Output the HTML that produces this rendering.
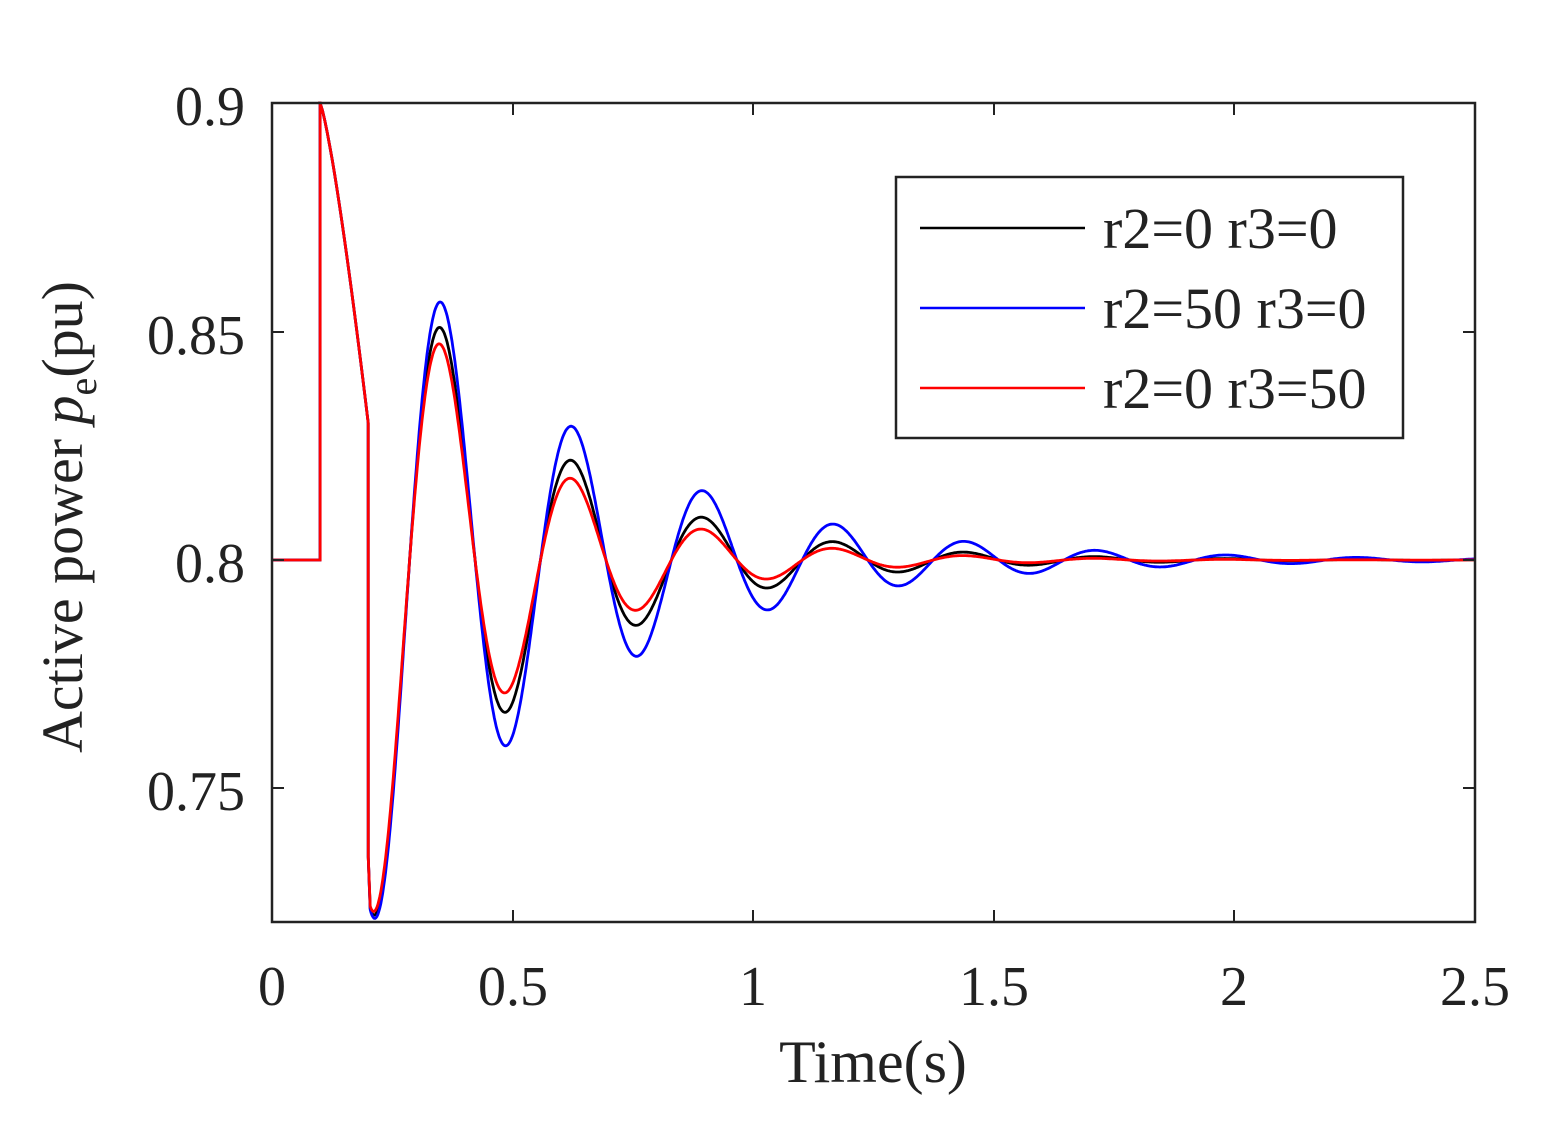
<!DOCTYPE html>
<html><head><meta charset="utf-8"><style>
html,body{margin:0;padding:0;background:#fff;}
svg text{font-family:"Liberation Serif",serif;fill:#222;}
</style></head><body>
<svg id="s" width="1550" height="1133" xmlns="http://www.w3.org/2000/svg">
<rect x="0" y="0" width="1550" height="1133" fill="#fff"/>
<g id="curves"></g>
<rect x="272" y="103" width="1203" height="819" fill="none" stroke="#222" stroke-width="2.5"/>
<g stroke="#222" stroke-width="2">
<line x1="272" y1="922" x2="272" y2="910"/><line x1="513" y1="922" x2="513" y2="910"/><line x1="753" y1="922" x2="753" y2="910"/><line x1="994" y1="922" x2="994" y2="910"/><line x1="1234" y1="922" x2="1234" y2="910"/>
<line x1="513" y1="103" x2="513" y2="115"/><line x1="753" y1="103" x2="753" y2="115"/><line x1="994" y1="103" x2="994" y2="115"/><line x1="1234" y1="103" x2="1234" y2="115"/>
<line x1="272" y1="788" x2="284" y2="788"/><line x1="272" y1="560" x2="284" y2="560"/><line x1="272" y1="332" x2="284" y2="332"/>
<line x1="1475" y1="788" x2="1463" y2="788"/><line x1="1475" y1="560" x2="1463" y2="560"/><line x1="1475" y1="332" x2="1463" y2="332"/>
</g>
<g font-size="56" text-anchor="end">
<text x="245" y="125">0.9</text><text x="245" y="354">0.85</text><text x="245" y="582">0.8</text><text x="245" y="810">0.75</text>
</g>
<g font-size="56" text-anchor="middle">
<text x="272" y="1005">0</text><text x="513" y="1005">0.5</text><text x="753" y="1005">1</text><text x="994" y="1005">1.5</text><text x="1234" y="1005">2</text><text x="1475" y="1005">2.5</text>
<text x="873" y="1082" font-size="60">Time(s)</text>
</g>
<text transform="translate(82,517) rotate(-90)" font-size="58" text-anchor="middle">Active power <tspan font-style="italic">p</tspan><tspan font-size="40" dy="14">e</tspan><tspan dy="-14">(pu)</tspan></text>
<rect x="896" y="177" width="507" height="261" fill="#fff" stroke="#222" stroke-width="2.5"/>
<line x1="920" y1="228" x2="1085" y2="228" stroke="#000" stroke-width="2.5"/>
<line x1="920" y1="308" x2="1085" y2="308" stroke="#00f" stroke-width="2.5"/>
<line x1="920" y1="388" x2="1085" y2="388" stroke="#f00" stroke-width="2.5"/>
<g font-size="58"><text x="1103" y="248">r2=0 r3=0</text><text x="1103" y="328">r2=50 r3=0</text><text x="1103" y="408">r2=0 r3=50</text></g>
</svg>
<script>
function X(t){return 272+t*481.2;}function Y(v){return 560-(v-0.8)*4570;}
function path(A,ratio){
 var T=0.272,t0=0.218,a=-Math.log(ratio)/(T/2);
 var p="M"+X(0)+","+Y(0.8)+" L"+X(0.1)+","+Y(0.8)+" L"+X(0.1)+","+Y(0.9);
 for(var t=0.1;t<=0.2001;t+=0.005){var u=(t-0.1)/0.1;p+=" L"+X(t).toFixed(1)+","+Y(0.9-0.07*Math.pow(u,1.25)).toFixed(1);}
 p+=" L"+X(0.2)+","+Y(0.735);
 for(var t=0.204;t<=2.5;t+=0.002){var v=0.8-A*Math.exp(-a*(t-t0))*Math.cos(2*Math.PI*(t-t0)/T);p+=" L"+X(t).toFixed(1)+","+Y(v).toFixed(1);}
 return p;
}
var g=document.getElementById("curves");
[["#000",0.077,0.655],["#00f",0.078,0.72],["#f00",0.076,0.615]].forEach(function(c){
 var e=document.createElementNS("http://www.w3.org/2000/svg","path");
 e.setAttribute("d",path(c[1],c[2]));e.setAttribute("fill","none");e.setAttribute("stroke",c[0]);e.setAttribute("stroke-width","2.8");g.appendChild(e);
});
</script>
</body></html>
